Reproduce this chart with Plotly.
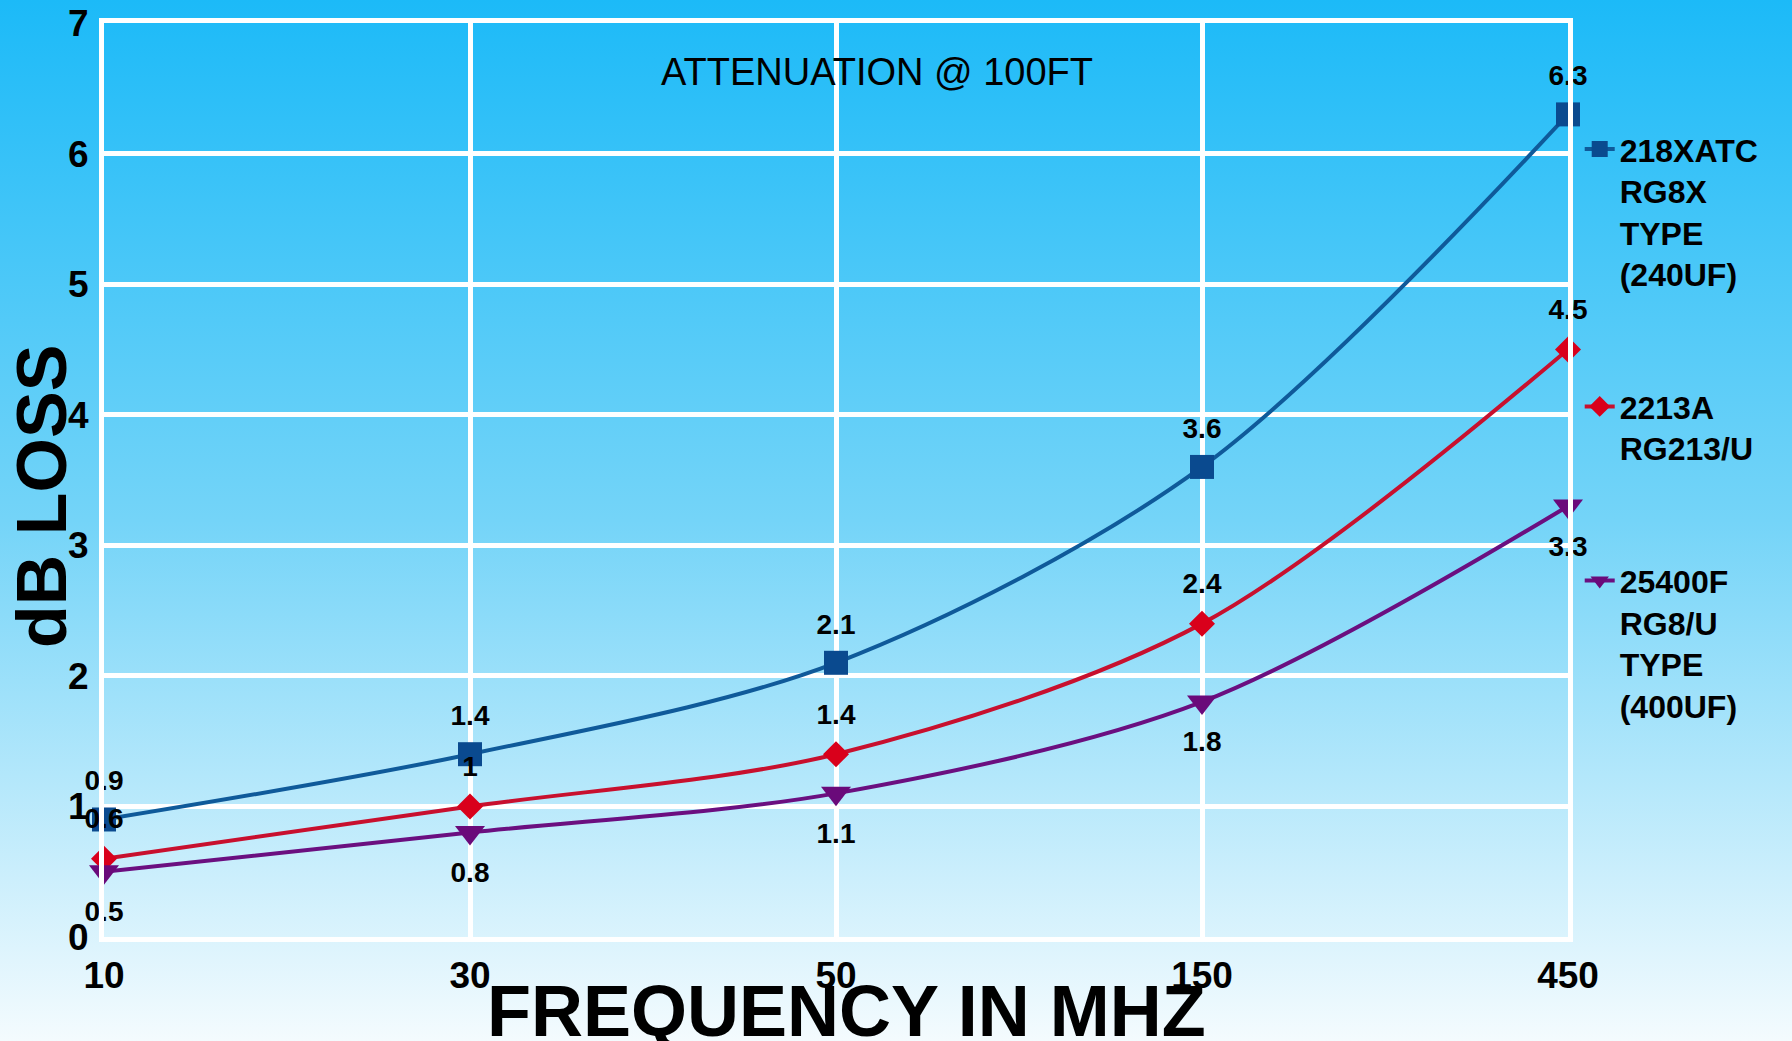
import base64
import plotly.graph_objects as go

# attenuation per 100 ft, dB
freqs = ["10", "30", "50", "150", "450"]
loss_218xatc = [0.9, 1.4, 2.1, 3.6, 6.3]
loss_2213a = [0.6, 1.0, 1.4, 2.4, 4.5]
loss_25400f = [0.5, 0.8, 1.1, 1.8, 3.3]

names = [
    "218XATC<br>RG8X<br>TYPE<br>(240UF)",
    "2213A<br>RG213/U",
    "25400F<br>RG8/U<br>TYPE<br>(400UF)",
]

W, H = 1792, 1041
L, R, T, B = 104, 224, 23, 104
pw, ph = W - L - R, H - T - B

FONT = "Liberation Sans, Arial, sans-serif"
pos = list(range(len(freqs)))

# name, values, line colour, marker colour, symbol, size, label position, label offset size
series = [
    (names[0], loss_218xatc, "#0f5a9a", "#0a4a8f", "square", 24, "top center", 34),
    (names[1], loss_2213a, "#c8102e", "#d9001b", "diamond", 20, "top center", 36),
    (names[2], loss_25400f, "#6b0f80", "#6a0a7a", "triangle-down", 26, "bottom center", 44),
]

fig = go.Figure()

for i, (name, vals, lc, mc, sym, size, tpos, tsize) in enumerate(series):
    fig.add_trace(go.Scatter(
        x=pos, y=vals, name=name, legendgroup=f"g{i}",
        mode="lines+markers",
        line=dict(color=lc, width=4, shape="spline", smoothing=0.9),
        marker=dict(symbol=sym, size=size, color=mc),
        cliponaxis=False, hoverinfo="skip",
    ))

# data labels
for i, (name, vals, lc, mc, sym, size, tpos, tsize) in enumerate(series):
    fig.add_trace(go.Scatter(
        x=pos, y=vals, mode="markers+text", showlegend=False,
        text=[f"{v:g}" for v in vals], textposition=tpos,
        textfont=dict(family=FONT, size=28, color="black", weight="bold"),
        marker=dict(symbol="circle", size=tsize, opacity=0),
        cliponaxis=False, hoverinfo="skip",
    ))

# sky gradient background
svg = (
    '<svg xmlns="http://www.w3.org/2000/svg" width="100" height="100" '
    'viewBox="0 0 100 100" preserveAspectRatio="none">'
    '<defs><linearGradient id="g" x1="0" y1="0" x2="0" y2="1">'
    '<stop offset="0" stop-color="#1cbaf8"/>'
    '<stop offset="0.5" stop-color="#74d4f8"/>'
    '<stop offset="1" stop-color="#f4fbfe"/>'
    '</linearGradient></defs>'
    '<rect width="100" height="100" fill="url(#g)"/></svg>'
)
src = "data:image/svg+xml;base64," + base64.b64encode(svg.encode()).decode()

fig.add_layout_image(
    source=src, xref="paper", yref="paper",
    x=-L / pw, y=1 + T / ph, sizex=W / pw, sizey=H / ph,
    xanchor="left", yanchor="top", sizing="stretch", layer="below",
)

axis_common = dict(
    showgrid=True, gridcolor="white", gridwidth=5,
    showline=True, linecolor="white", linewidth=5, mirror=True,
    zeroline=False, ticks="", automargin=False,
    tickfont=dict(family=FONT, size=37, color="black", weight="bold"),
)

fig.update_xaxes(
    range=[0, 4], tickvals=pos, ticktext=freqs, ticklabelstandoff=2,
    **axis_common,
)
fig.update_yaxes(
    range=[0, 7], dtick=1, ticklabelstandoff=3,
    **axis_common,
)

fig.add_annotation(
    text="ATTENUATION @ 100FT", xref="paper", yref="paper",
    x=0.528, y=0.946, xanchor="center", yanchor="middle", showarrow=False,
    font=dict(family=FONT, size=38, color="black"),
)
fig.add_annotation(
    text="dB LOSS", xref="paper", yref="paper", textangle=-90,
    x=(42 - L) / pw, y=(937 - 497) / ph, xanchor="center", yanchor="middle",
    showarrow=False,
    font=dict(family=FONT, size=70, color="black", weight="bold"),
)
fig.add_annotation(
    text="FREQUENCY IN MHZ", xref="paper", yref="paper",
    x=0.5075, y=(937 - 1011) / ph, xanchor="center", yanchor="middle",
    showarrow=False,
    font=dict(family=FONT, size=72, color="black", weight="bold"),
)

fig.update_layout(
    width=W, height=H,
    margin=dict(l=L, r=R, t=T, b=B),
    paper_bgcolor="#8fdcf8",
    plot_bgcolor="rgba(0,0,0,0)",
    showlegend=True,
    legend=dict(
        x=1.008, y=0.892, xanchor="left", yanchor="top",
        bgcolor="rgba(0,0,0,0)", valign="top",
        tracegroupgap=88, itemsizing="trace",
        font=dict(family=FONT, size=32, color="black", weight="bold"),
    ),
)

fig.write_html(
    "out.html",
    config={"displayModeBar": False},
    post_script="document.body.style.margin='0';document.body.style.overflow='hidden';",
)
